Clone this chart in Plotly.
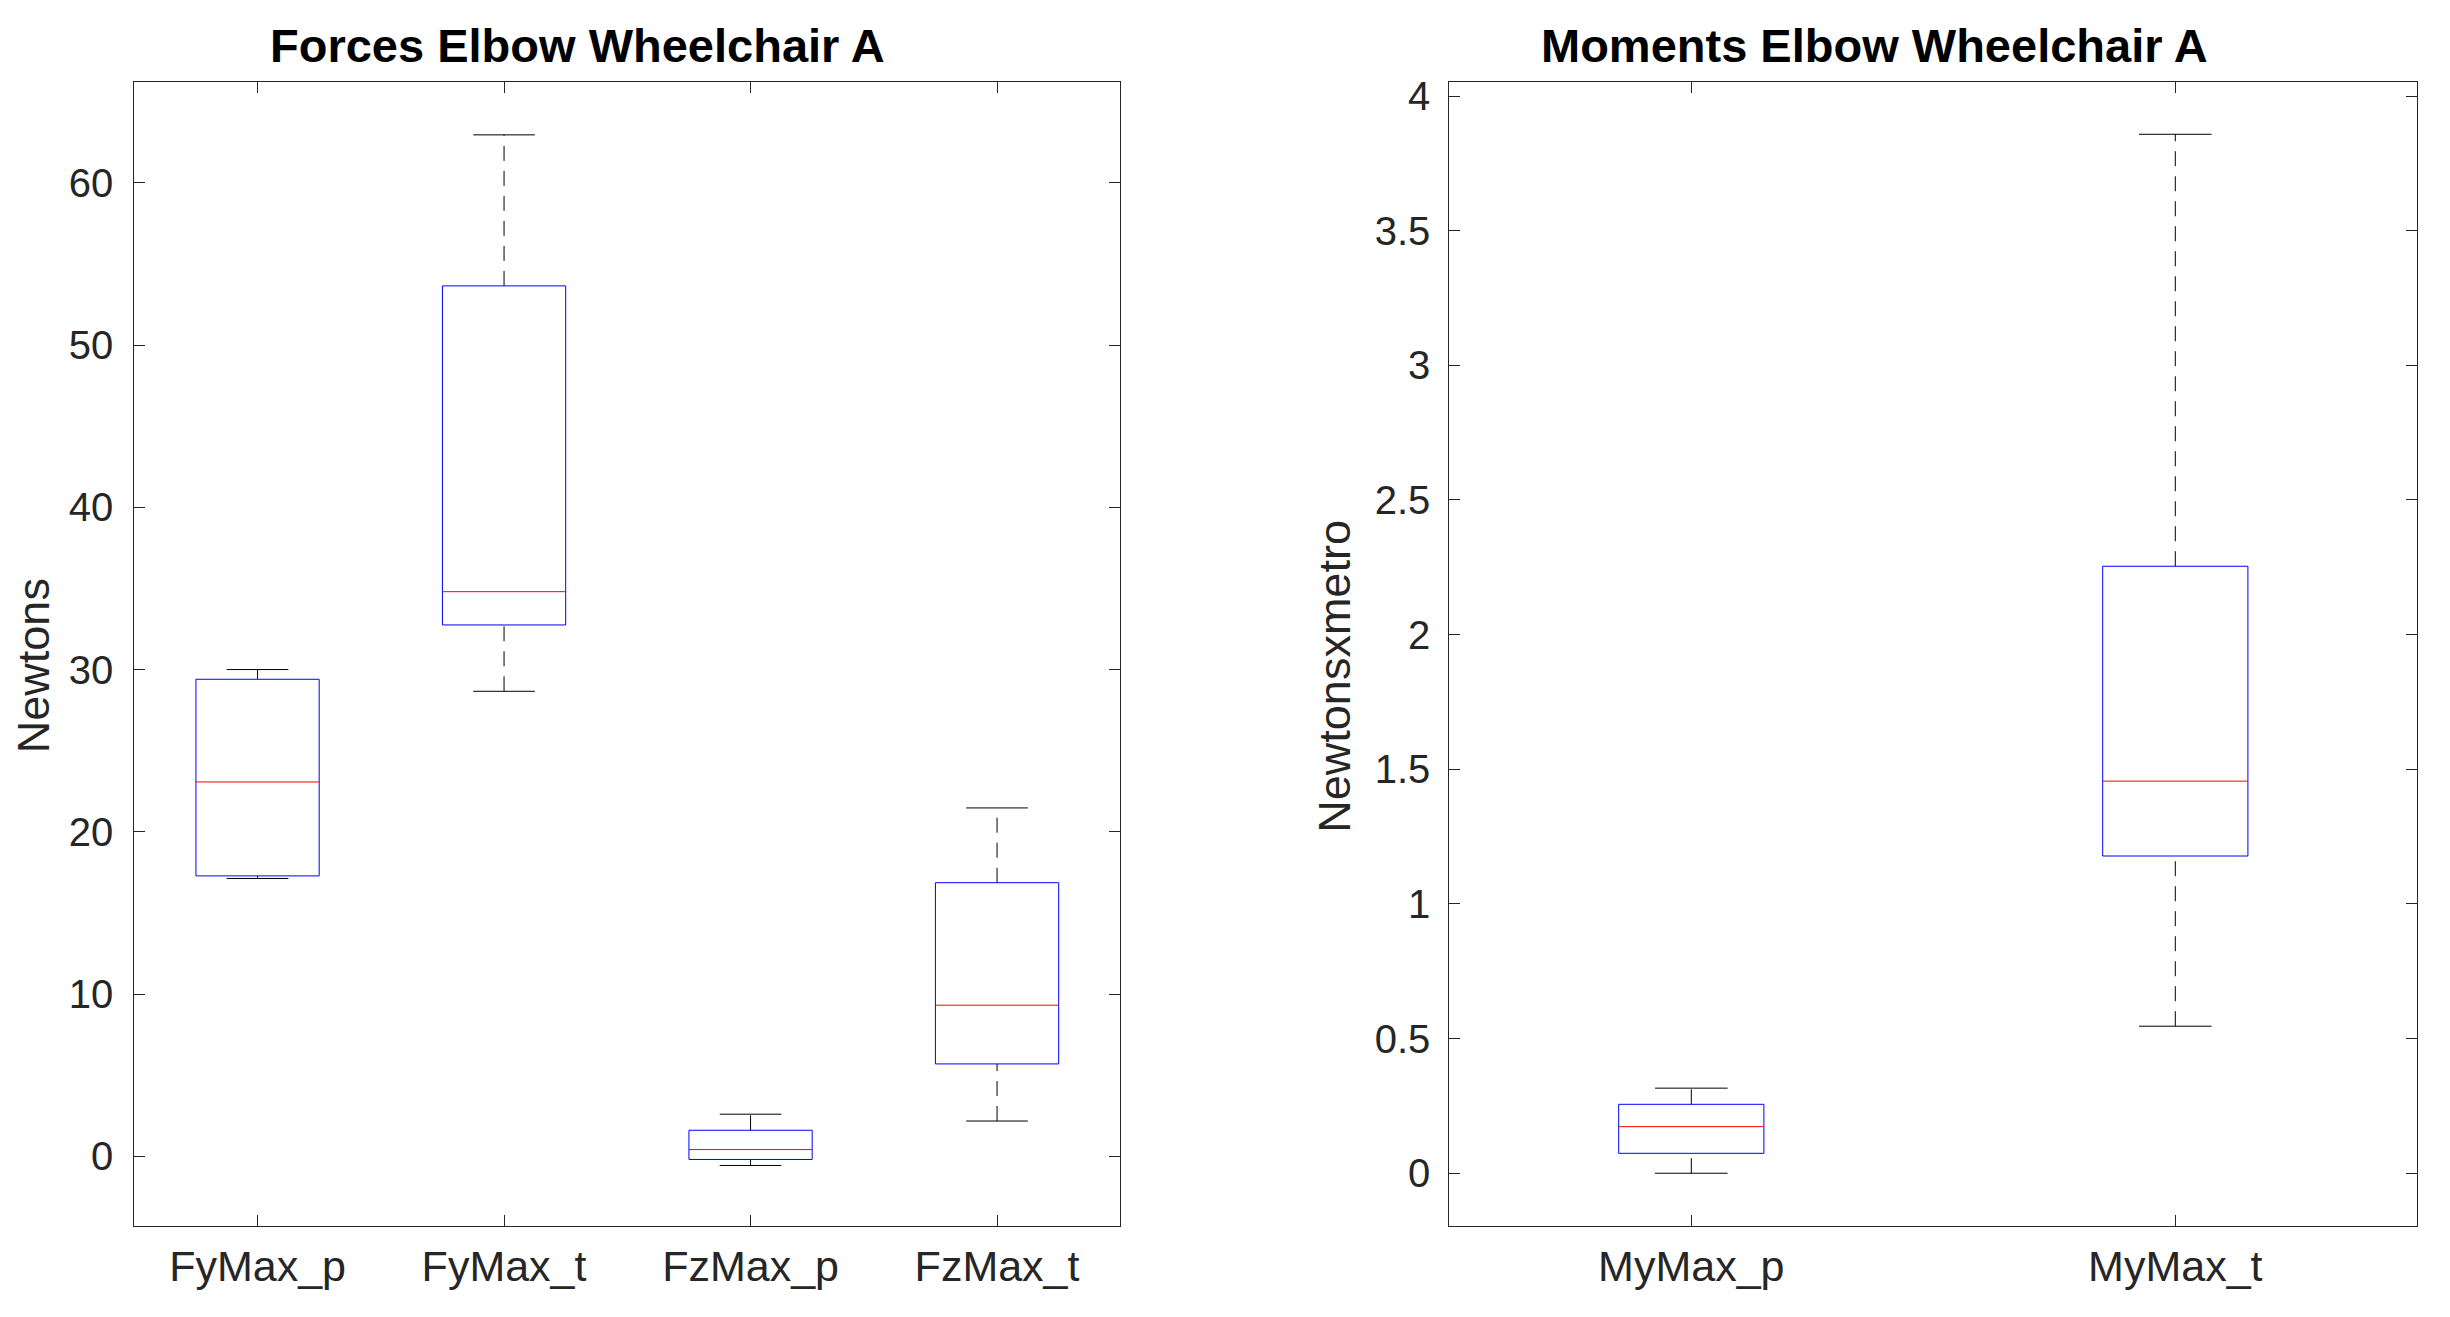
import plotly.graph_objects as go

# ---------------- data ----------------
force_labels = ["FyMax_p", "FyMax_t", "FzMax_p", "FzMax_t"]
force_lower = [17.12, 28.66, -0.57, 2.17]
force_q1 = [17.28, 32.75, -0.20, 5.69]
force_median = [23.07, 34.80, 0.41, 9.31]
force_q3 = [29.40, 53.65, 1.60, 16.86]
force_upper = [30.00, 62.96, 2.59, 21.47]
force_yticks = [0, 10, 20, 30, 40, 50, 60]

moment_labels = ["MyMax_p", "MyMax_t"]
moment_lower = [0.000, 0.546]
moment_q1 = [0.074, 1.178]
moment_median = [0.173, 1.456]
moment_q3 = [0.256, 2.254]
moment_upper = [0.316, 3.858]
moment_yticks = [0, 0.5, 1, 1.5, 2, 2.5, 3, 3.5, 4]

# ---------------- layout constants ----------------
W, H = 2450, 1317
FONT = "Liberation Sans, Arial, Helvetica, sans-serif"
AXC = "#262626"
BLUE = "#0000ff"
RED = "#ff0000"

fig = go.Figure()


def add_boxes(labels, lower, q1, med, q3, upper, xa, ya, box_w, cap_w):
    hw, cw = box_w / 2.0, cap_w / 2.0
    for i in range(len(labels)):
        p = i + 1
        common = dict(xaxis=xa, yaxis=ya, mode="lines", hoverinfo="skip", showlegend=False)
        # dashed whiskers
        fig.add_trace(go.Scatter(x=[p, p], y=[lower[i], q1[i]],
                                 line=dict(color="black", width=1, dash="15px,10px"), **common))
        fig.add_trace(go.Scatter(x=[p, p], y=[q3[i], upper[i]],
                                 line=dict(color="black", width=1, dash="15px,10px"), **common))
        # caps
        fig.add_trace(go.Scatter(x=[p - cw, p + cw, None, p - cw, p + cw],
                                 y=[lower[i], lower[i], None, upper[i], upper[i]],
                                 line=dict(color="black", width=1), **common))
        # box
        fig.add_trace(go.Scatter(x=[p - hw, p + hw, p + hw, p - hw, p - hw],
                                 y=[q1[i], q1[i], q3[i], q3[i], q1[i]],
                                 line=dict(color=BLUE, width=1), **common))
        # median
        fig.add_trace(go.Scatter(x=[p - hw, p + hw], y=[med[i], med[i]],
                                 line=dict(color=RED, width=1), **common))


add_boxes(force_labels, force_lower, force_q1, force_median, force_q3, force_upper,
          "x", "y", 0.5, 0.25)
add_boxes(moment_labels, moment_lower, moment_q1, moment_median, moment_q3, moment_upper,
          "x2", "y2", 0.3, 0.15)

ydom = [(H - 1226.3) / H, (H - 82.3) / H]

axis_common = dict(showline=True, linecolor=AXC, linewidth=1, mirror="ticks",
                   ticks="inside", ticklen=11, tickwidth=1, tickcolor=AXC,
                   showgrid=False, zeroline=False, automargin=False)

fig.update_layout(
    width=W, height=H,
    margin=dict(l=0, r=0, t=0, b=0, pad=0, autoexpand=False),
    paper_bgcolor="white", plot_bgcolor="white",
    showlegend=False,
    font=dict(family=FONT, color=AXC),
    xaxis=dict(domain=[134.3 / W, 1120.3 / W], range=[0.5, len(force_labels) + 0.5],
               tickvals=list(range(1, len(force_labels) + 1)), ticktext=force_labels,
               tickfont=dict(size=43, color=AXC, family=FONT), anchor="y",
               ticklabelstandoff=2, **axis_common),
    yaxis=dict(domain=ydom, range=[-4.32, 66.2], tickvals=force_yticks,
               tickfont=dict(size=40, color=AXC, family=FONT), anchor="x",
               ticklabelstandoff=12, **axis_common),
    xaxis2=dict(domain=[1449.3 / W, 2417.3 / W], range=[0.5, len(moment_labels) + 0.5],
                tickvals=list(range(1, len(moment_labels) + 1)), ticktext=moment_labels,
                tickfont=dict(size=43, color=AXC, family=FONT), anchor="y2",
                ticklabelstandoff=2, **axis_common),
    yaxis2=dict(domain=ydom, range=[-0.197, 4.051], tickvals=moment_yticks,
                tickfont=dict(size=40, color=AXC, family=FONT), anchor="x2",
                ticklabelstandoff=10, **axis_common),
)

annotations = [
    dict(text="<b>Forces Elbow Wheelchair A</b>", x=577.7 / W, y=(H - 45.5) / H,
         font=dict(size=47, color="black", family=FONT)),
    dict(text="<b>Moments Elbow Wheelchair A</b>", x=1874.5 / W, y=(H - 45.5) / H,
         font=dict(size=47, color="black", family=FONT)),
    dict(text="Newtons", x=33.4 / W, y=(H - 665.8) / H, textangle=-90,
         font=dict(size=45, color=AXC, family=FONT)),
    dict(text="Newtonsxmetro", x=1335 / W, y=(H - 676.7) / H, textangle=-90,
         font=dict(size=45, color=AXC, family=FONT)),
]
for a in annotations:
    a.update(xref="paper", yref="paper", xanchor="center", yanchor="middle", showarrow=False)
fig.update_layout(annotations=annotations)

fig.write_html("out.html", config={"displayModeBar": False},
               post_script="document.body.style.margin='0';")
